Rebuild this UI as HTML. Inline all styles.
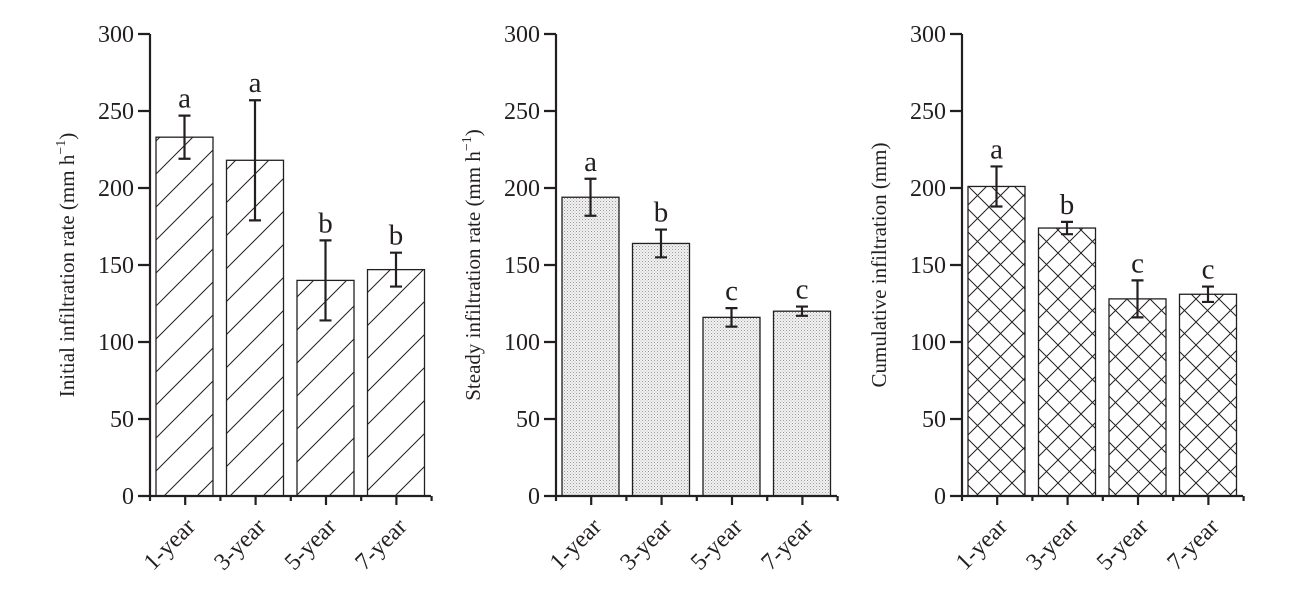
<!DOCTYPE html>
<html><head><style>body{margin:0;background:#fff}svg{display:block}text{font-family:"Liberation Serif",serif;fill:#231f20}</style></head><body>
<svg width="1298" height="597" viewBox="0 0 1298 597" xmlns="http://www.w3.org/2000/svg">
<defs>
<pattern id="diag" patternUnits="userSpaceOnUse" width="33" height="33"><path d="M-2,35 L35,-2 M-2,2 L2,-2 M31,35 L35,31" stroke="#231f20" stroke-width="1"/></pattern>
<pattern id="dots" patternUnits="userSpaceOnUse" width="3" height="3"><rect width="3" height="3" fill="#f2f2f2"/><rect width="1" height="1" fill="#9a9a9a"/><rect x="1.5" y="1.5" width="1" height="1" fill="#b5b5b5"/></pattern>
<pattern id="cross" patternUnits="userSpaceOnUse" width="23" height="23"><path d="M0,0 L23,23 M23,0 L0,23" stroke="#231f20" stroke-width="1"/></pattern>
</defs>
</svg>
<script>
const svg=document.querySelector('svg');
const NS='http://www.w3.org/2000/svg';
function el(t,a,txt){const e=document.createElementNS(NS,t);for(const k in a)e.setAttribute(k,a[k]);if(txt!==undefined)e.textContent=txt;svg.appendChild(e);return e;}
const Y=v=>496-v*1.54;
const panels=[
 {x:150,fill:'url(#diag)',title:'Initial infiltration rate (mm h',sup:true,d:[[233,14,'a'],[218,39,'a'],[140,26,'b'],[147,11,'b']]},
 {x:556,fill:'url(#dots)',title:'Steady infiltration rate (mm h',sup:true,d:[[194,12,'a'],[164,9,'b'],[116,6,'c'],[120,3,'c']]},
 {x:962,fill:'url(#cross)',title:'Cumulative infiltration (mm)',sup:false,d:[[201,13,'a'],[174,4,'b'],[128,12,'c'],[131,5,'c']]}
];
const lab=['1-year','3-year','5-year','7-year'];
for(const p of panels){
 const x0=p.x;
 p.d.forEach((d,i)=>{
  const cx=x0+34.5+i*70.5;
  el('rect',{x:cx-28.5,y:Y(d[0]),width:57,height:496-Y(d[0]),fill:'#fff',stroke:'none'});
  el('rect',{x:cx-28.5,y:Y(d[0]),width:57,height:496-Y(d[0]),fill:p.fill,stroke:'#231f20','stroke-width':1.3});
  const t=Y(d[0]+d[1]),b=Y(d[0]-d[1]);
  el('path',{d:`M${cx},${t}V${b}M${cx-6},${t}H${cx+6}M${cx-6},${b}H${cx+6}`,stroke:'#231f20','stroke-width':2.2,fill:'none'});
  el('text',{x:cx,y:t-8,'text-anchor':'middle','font-size':29},d[2]);
  el('text',{x:0,y:0,'text-anchor':'end','font-size':24,transform:`translate(${cx+12},${528}) rotate(-45)`},lab[i]);
 });
 let ax=`M${x0},34V496H${x0+281}`;
 for(let v=0;v<=300;v+=50){ax+=`M${x0-12},${Y(v)}H${x0}`;el('text',{x:x0-16,y:Y(v)+8,'text-anchor':'end','font-size':24},v);}
 for(let i=0;i<=8;i++){const xx=x0+i*35.2;ax+=`M${xx},496V${i%2?505:501}`;}
 el('path',{d:ax,stroke:'#231f20','stroke-width':2.2,fill:'none'});
 const tt=el('text',{x:0,y:0,'text-anchor':'middle','font-size':21,transform:`translate(${x0-76},265) rotate(-90)`},p.title);
 if(p.sup){const s=document.createElementNS(NS,'tspan');s.setAttribute('font-size',14);s.setAttribute('dy',-9);s.textContent='−1';tt.appendChild(s);const s2=document.createElementNS(NS,'tspan');s2.setAttribute('dy',9);s2.textContent=')';tt.appendChild(s2);}
}
</script>
</body></html>
